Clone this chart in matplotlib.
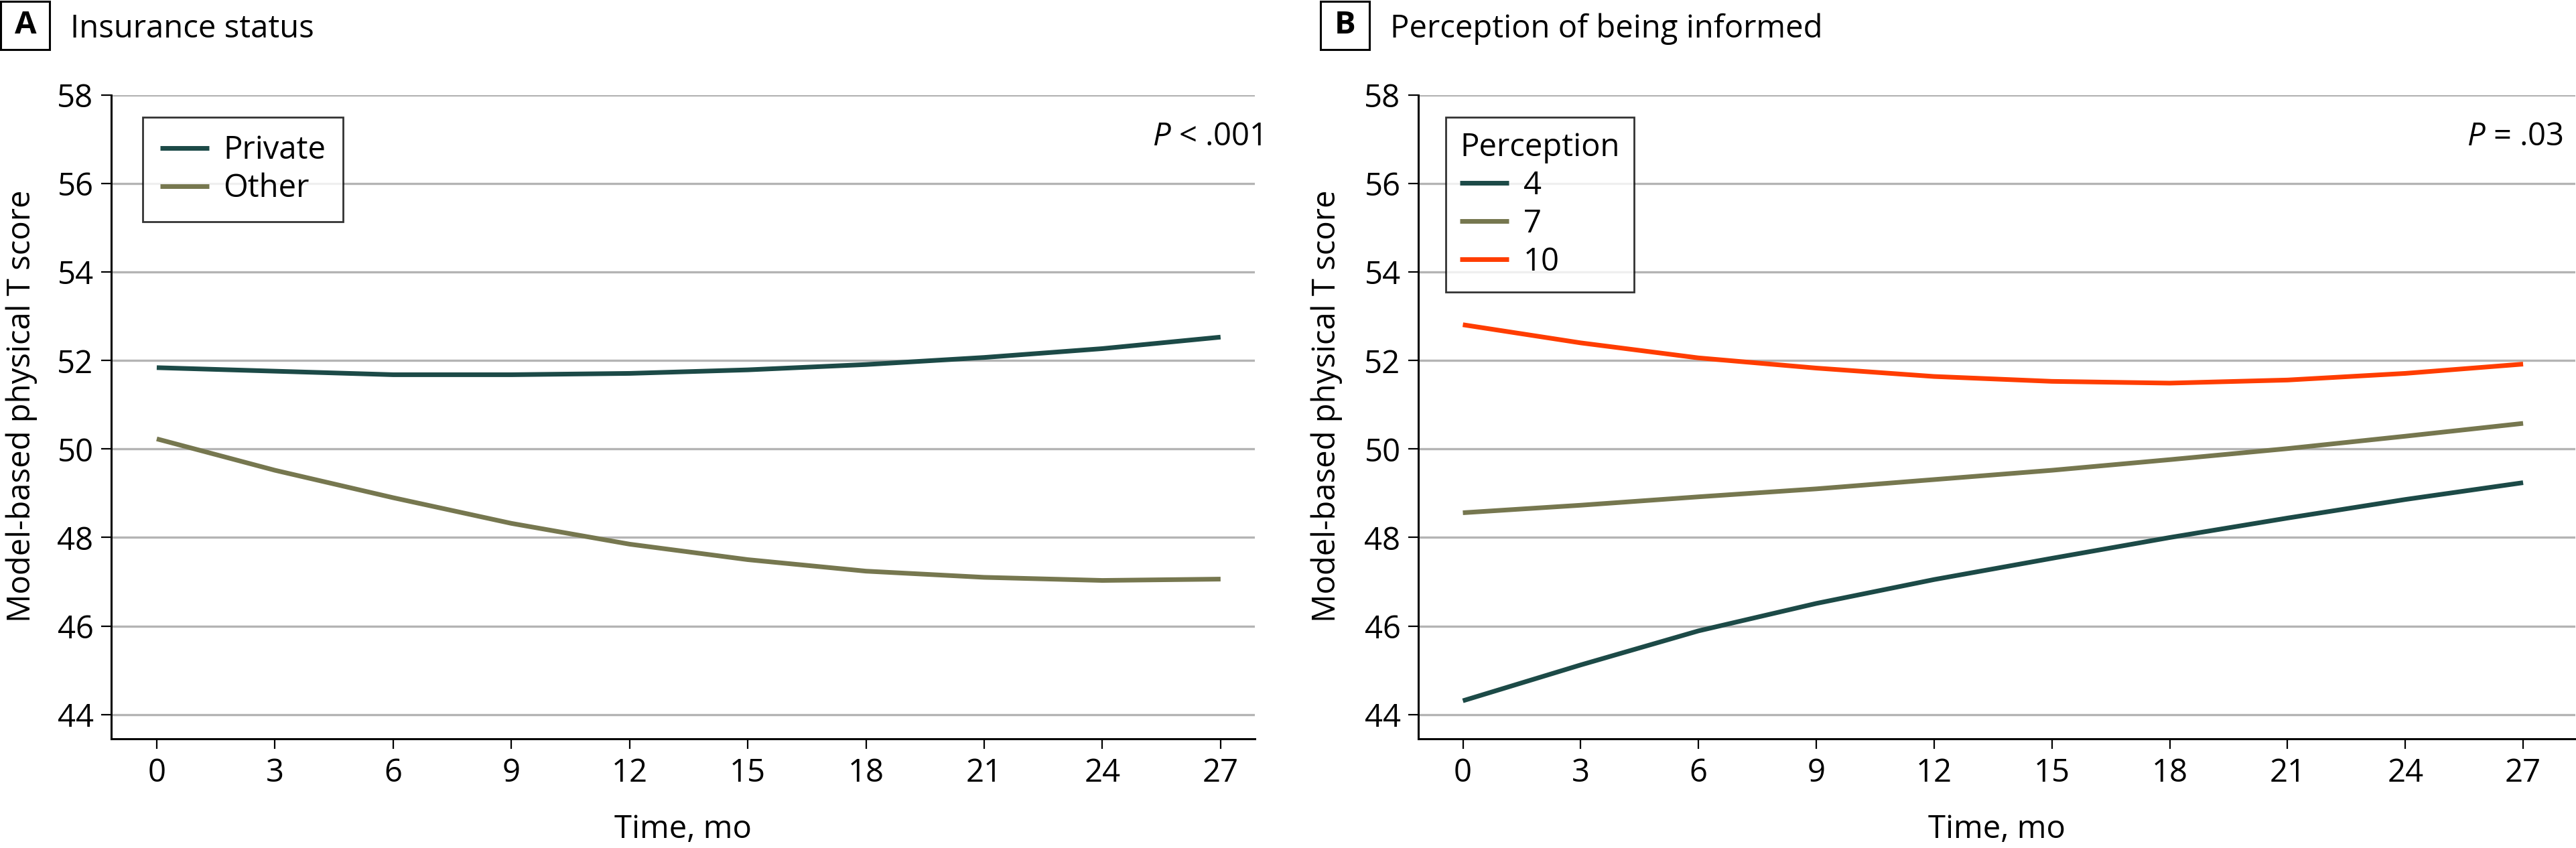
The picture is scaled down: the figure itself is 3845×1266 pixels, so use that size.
import matplotlib
matplotlib.use("Agg")
import matplotlib.pyplot as plt
from matplotlib.patches import Rectangle

# ---------------- data ----------------
months = [0, 3, 6, 9, 12, 15, 18, 21, 24, 27]

# Panel A: insurance status
insurance_labels = ["Private", "Other"]
private_scores = [51.84, 51.76, 51.68, 51.68, 51.71, 51.79, 51.91, 52.07, 52.27, 52.53]
other_scores = [50.23, 49.52, 48.90, 48.32, 47.85, 47.50, 47.24, 47.10, 47.03, 47.06]

# Panel B: perception of being informed
perception_labels = ["4", "7", "10"]
perception4_scores = [44.31, 45.12, 45.89, 46.51, 47.05, 47.53, 48.00, 48.44, 48.86, 49.24]
perception7_scores = [48.56, 48.73, 48.92, 49.10, 49.31, 49.52, 49.76, 50.01, 50.29, 50.58]
perception10_scores = [52.81, 52.40, 52.06, 51.83, 51.64, 51.53, 51.49, 51.56, 51.71, 51.92]

x_ticks = [0, 3, 6, 9, 12, 15, 18, 21, 24, 27]
y_ticks = [44, 46, 48, 50, 52, 54, 56, 58]

TEAL = "#1c4a47"
OLIVE = "#76774f"
ORANGE = "#ff3d00"
GRID = "#b4b4b4"

FONT = "Open Sans"
FS = 34
plt.rcParams["font.family"] = [FONT, "DejaVu Sans"]
plt.rcParams["mathtext.fontset"] = "custom"
plt.rcParams["mathtext.it"] = FONT + ":italic"
plt.rcParams["mathtext.rm"] = FONT

W, H = 3845, 1266
fig = plt.figure(figsize=(W / 100, H / 100), dpi=100)


def px_axes(left, right, top, bottom):
    return fig.add_axes([left / W, 1 - bottom / H, (right - left) / W, (bottom - top) / H])


def style(ax, xlim):
    ax.set_xlim(*xlim)
    ax.set_ylim(43.45, 58)
    ax.set_xticks(x_ticks)
    ax.set_yticks(y_ticks)
    for s in ["top", "right"]:
        ax.spines[s].set_visible(False)
    for s in ["left", "bottom"]:
        ax.spines[s].set_linewidth(2.2)
        ax.spines[s].set_color("black")
    ax.tick_params(axis="both", direction="out", length=11, width=1.6, labelsize=FS, colors="black")
    ax.tick_params(axis="y", pad=8)
    ax.tick_params(axis="x", pad=9)
    ax.yaxis.grid(True, color=GRID, linewidth=2.4)
    ax.set_axisbelow(True)
    ax.set_xlabel("Time, mo", fontsize=FS, labelpad=26)


LW = 5.0

# ---------------- Panel A ----------------
axA = px_axes(166, 1873, 142, 1103)
style(axA, (-1.156, 27.87))
axA.plot(months, private_scores, color=TEAL, lw=LW, label=insurance_labels[0], solid_capstyle="butt")
axA.plot(months, other_scores, color=OLIVE, lw=LW, label=insurance_labels[1], solid_capstyle="butt")
legA = axA.legend(loc="upper left", bbox_to_anchor=(0.0275, 0.9657), borderaxespad=0,
                  fontsize=FS, frameon=True, fancybox=False, edgecolor="black",
                  handlelength=1.55, handletextpad=0.45, labelspacing=0.2, borderpad=0.55)
legA.get_frame().set_linewidth(2.0)
axA.text(1.0059, 0.922, r"$P$" + " < .001", transform=axA.transAxes, ha="right", va="baseline", fontsize=FS)

# ---------------- Panel B ----------------
axB = px_axes(2117, 3844, 142, 1103)
style(axB, (-1.135, 28.33))
axB.plot(months, perception4_scores, color=TEAL, lw=LW, label=perception_labels[0], solid_capstyle="butt")
axB.plot(months, perception7_scores, color=OLIVE, lw=LW, label=perception_labels[1], solid_capstyle="butt")
axB.plot(months, perception10_scores, color=ORANGE, lw=LW, label=perception_labels[2], solid_capstyle="butt")
legB = axB.legend(loc="upper left", bbox_to_anchor=(0.0237, 0.9657), borderaxespad=0,
                  title="Perception", title_fontsize=FS, alignment="left",
                  fontsize=FS, frameon=True, fancybox=False, edgecolor="black",
                  handlelength=1.55, handletextpad=0.45, labelspacing=0.2, borderpad=0.45)
legB.get_frame().set_linewidth(2.0)
axB.text(0.9896, 0.922, r"$P$" + " = .03", transform=axB.transAxes, ha="right", va="baseline", fontsize=FS)

# ---------------- y labels ----------------
fig.text(32 / W, 1 - 606 / H, "Model-based physical T score", rotation=90, ha="center", va="center", fontsize=FS)
fig.text(1980 / W, 1 - 606 / H, "Model-based physical T score", rotation=90, ha="center", va="center", fontsize=FS)

# ---------------- panel headers ----------------
def header(x0, letter, title, tx):
    fig.patches.append(Rectangle((x0 / W, 1 - 74 / H), 73 / W, 72 / H, transform=fig.transFigure,
                                 fill=False, edgecolor="black", linewidth=2.2))
    fig.text((x0 + 37) / W, 1 - 38 / H, letter, ha="center", va="center", fontsize=FS, fontweight="bold")
    fig.text(tx / W, 1 - 56 / H, title, ha="left", va="baseline", fontsize=FS)


header(1, "A", "Insurance status", 105)
header(1971, "B", "Perception of being informed", 2075)

fig.savefig("out.png", dpi=100)
